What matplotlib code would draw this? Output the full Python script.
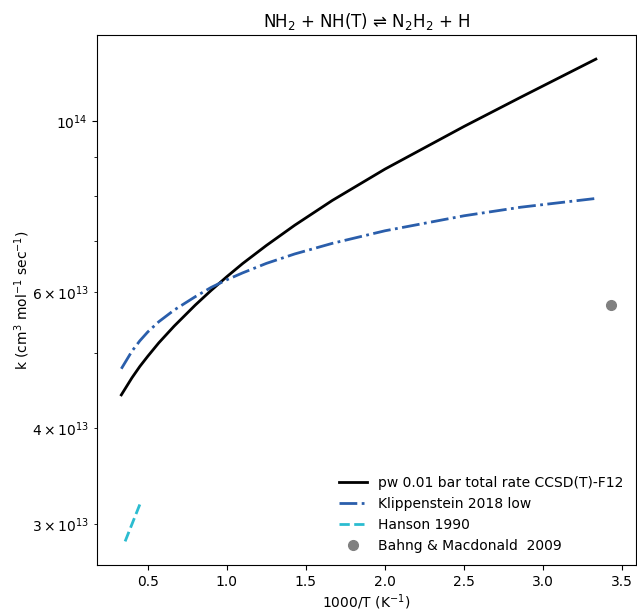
import matplotlib
matplotlib.use("Agg")
import matplotlib.pyplot as plt

# 1000/T (K^-1) and rate constants (cm3 mol-1 s-1)
x_pw = [0.333, 0.4, 0.45, 0.5, 0.57, 0.667, 0.8, 0.9, 1.0, 1.1, 1.25,
        1.429, 1.667, 2.0, 2.5, 2.857, 3.333]
k_pw = [4.416e13, 4.647e13, 4.808e13, 4.956e13, 5.160e13, 5.424e13, 5.775e13,
        6.033e13, 6.288e13, 6.540e13, 6.903e13, 7.333e13, 7.898e13, 8.674e13,
        9.854e13, 1.075e14, 1.205e14]

x_klip = [0.333, 0.4, 0.45, 0.5, 0.57, 0.667, 0.8, 0.9, 1.0, 1.1, 1.25,
          1.429, 1.667, 2.0, 2.5, 2.857, 3.333]
k_klip = [4.775e13, 5.032e13, 5.191e13, 5.330e13, 5.496e13, 5.691e13, 5.922e13,
          6.088e13, 6.230e13, 6.360e13, 6.543e13, 6.730e13, 6.947e13, 7.213e13,
          7.544e13, 7.739e13, 7.945e13]

x_hanson = [0.357, 0.4545]
k_hanson = [2.85e13, 3.20e13]

x_bahng = [3.43]
k_bahng = [5.77e13]

fig = plt.figure(figsize=(6.37, 6.14), dpi=100)
ax = fig.add_axes([0.152, 0.079, 0.846, 0.864])

ax.plot(x_pw, k_pw, color='black', linestyle='-', linewidth=2,
        label='pw 0.01 bar total rate CCSD(T)-F12')
ax.plot(x_klip, k_klip, color='#2a5eab', linestyle='-.', linewidth=2,
        label='Klippenstein 2018 low')
ax.plot(x_hanson, k_hanson, color='#2bbcd0', linestyle='--', linewidth=2,
        label='Hanson 1990')
ax.plot(x_bahng, k_bahng, 'o', color='gray', markersize=7, linestyle='none',
        label='Bahng & Macdonald  2009')

ax.set_yscale('log')
ax.set_title(r'NH$_2$ + NH(T) ⇌ N$_2$H$_2$ + H', fontsize=12)
ax.set_xlabel(r'1000/T (K$^{-1}$)', fontsize=10, labelpad=2)
ax.set_ylabel(r'k (cm$^3$ mol$^{-1}$ sec$^{-1}$)', fontsize=10, labelpad=0)
ax.legend(loc='lower right', frameon=False, fontsize=10)

fig.savefig('out.png', dpi=100)
